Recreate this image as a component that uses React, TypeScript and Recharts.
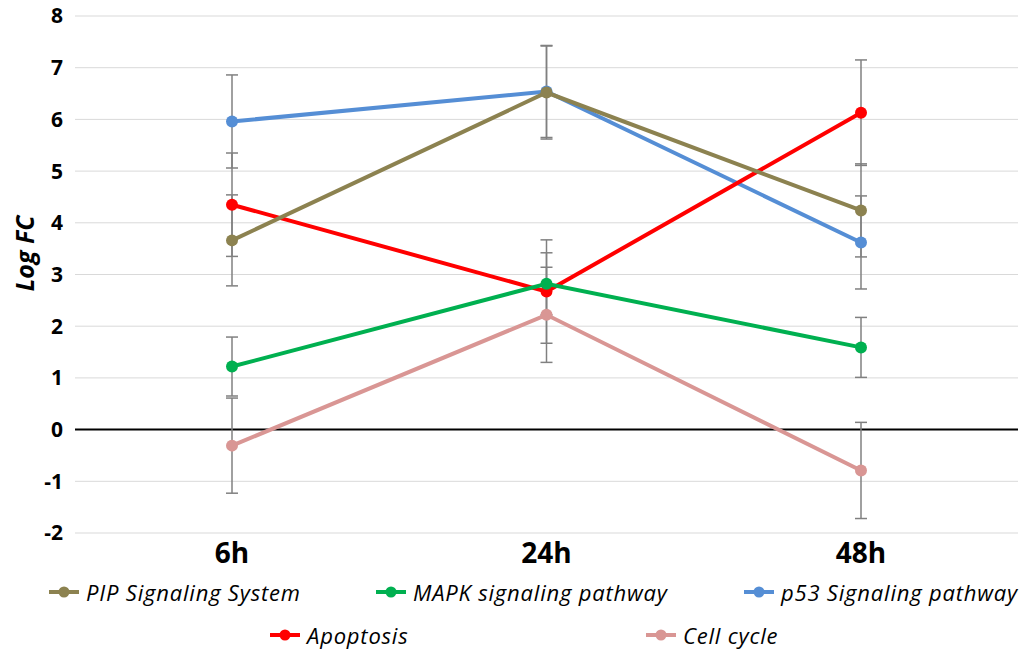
import React from "react";
import {
  LineChart,
  Line,
  XAxis,
  YAxis,
  CartesianGrid,
  ReferenceLine,
  ErrorBar,
  Legend,
} from "recharts";

const times = ["6h", "24h", "48h"];
const pipValues = [3.66, 6.52, 4.24];
const pipErrors = [0.88, 0.9, 0.9];
const mapkValues = [1.22, 2.82, 1.59];
const mapkErrors = [0.57, 0.6, 0.58];
const p53Values = [5.96, 6.54, 3.62];
const p53Errors = [0.9, 0.89, 0.9];
const apoptosisValues = [4.35, 2.67, 6.13];
const apoptosisErrors = [1.0, 1.0, 1.02];
const cellCycleValues = [-0.31, 2.22, -0.79];
const cellCycleErrors = [0.92, 0.92, 0.93];
const yTicks = [-2, -1, 0, 1, 2, 3, 4, 5, 6, 7, 8];

const series = [
  { key: "p53", name: "p53 Signaling pathway", color: "#558ED5" },
  { key: "apoptosis", name: "Apoptosis", color: "#FF0000" },
  { key: "cellCycle", name: "Cell cycle", color: "#D99694" },
  { key: "mapk", name: "MAPK signaling pathway", color: "#00B050" },
  { key: "pip", name: "PIP Signaling System", color: "#8C8250" },
];

const legendItems = [
  { name: "PIP Signaling System", color: "#8C8250", left: 49, top: 0 },
  { name: "MAPK signaling pathway", color: "#00B050", left: 376, top: 0 },
  { name: "p53 Signaling pathway", color: "#558ED5", left: 744, top: 0 },
  { name: "Apoptosis", color: "#FF0000", left: 270, top: 43 },
  { name: "Cell cycle", color: "#D99694", left: 646, top: 43 },
];

const data = times.map((t, i) => ({
  time: t,
  pip: pipValues[i],
  pipErr: pipErrors[i],
  mapk: mapkValues[i],
  mapkErr: mapkErrors[i],
  p53: p53Values[i],
  p53Err: p53Errors[i],
  apoptosis: apoptosisValues[i],
  apoptosisErr: apoptosisErrors[i],
  cellCycle: cellCycleValues[i],
  cellCycleErr: cellCycleErrors[i],
}));

const FONT = "'Open Sans', sans-serif";

const renderLegend = () => (
  <div style={{ position: "relative", width: 1024, height: 72, fontFamily: FONT }}>
    {legendItems.map((it) => (
      <div
        key={it.name}
        style={{
          position: "absolute",
          left: it.left,
          top: it.top,
          height: 28,
          display: "flex",
          alignItems: "center",
          whiteSpace: "nowrap",
        }}
      >
        <svg width={30} height={14} style={{ marginRight: 7 }}>
          <line x1={0} y1={7} x2={30} y2={7} stroke={it.color} strokeWidth={4} />
          <circle cx={15} cy={7} r={5.5} fill={it.color} />
        </svg>
        <span style={{ fontStyle: "italic", fontSize: 22, letterSpacing: 0.8, color: "#000" }}>
          {it.name}
        </span>
      </div>
    ))}
  </div>
);

const YLabel = (props: any) => {
  const vb = props.viewBox || {};
  const cx = 24;
  const cy = (vb.y || 0) + (vb.height || 0) / 2 - 21;
  return (
    <text
      x={cx}
      y={cy}
      transform={`rotate(-90, ${cx}, ${cy})`}
      textAnchor="middle"
      dominantBaseline="central"
      fontFamily={FONT}
      fontSize={25}
      fontWeight={700}
      fontStyle="italic"
      fill="#000"
    >
      Log FC
    </text>
  );
};

export default function App() {
  return (
    <div style={{ position: "absolute", left: 0, top: 0 }}>
      <LineChart
        width={1024}
        height={650}
        data={data}
        margin={{ top: 16, right: 6, left: 8, bottom: 72 }}
      >
        <CartesianGrid vertical={false} stroke="#d9d9d9" strokeWidth={1} />
        <XAxis
          dataKey="time"
          axisLine={false}
          tickLine={false}
          padding={{ left: 157, right: 157 }}
          height={45}
          tickMargin={4}
          tick={{ fontFamily: FONT, fontSize: 28, fontWeight: 700, fill: "#000" }}
        />
        <YAxis
          domain={[-2, 8]}
          ticks={yTicks}
          interval={0}
          width={67}
          axisLine={false}
          tickLine={false}
          tickMargin={6}
          tick={{ fontFamily: FONT, fontSize: 21, fontWeight: 700, fill: "#000" }}
          label={<YLabel />}
        />
        <ReferenceLine y={0} stroke="#000" strokeWidth={2} />
        {series.map((s) => (
          <Line
            key={s.key}
            dataKey={s.key}
            name={s.name}
            stroke={s.color}
            strokeWidth={4}
            dot={{ r: 6, fill: s.color, stroke: s.color, strokeWidth: 0 }}
            activeDot={false}
            isAnimationActive={false}
          >
            <ErrorBar
              dataKey={`${s.key}Err`}
              direction="y"
              width={6}
              stroke="#808080"
              strokeWidth={1.5}
            />
          </Line>
        ))}
        <Legend
          layout="horizontal"
          verticalAlign="middle"
          align="center"
          content={renderLegend}
          wrapperStyle={{ top: 578, left: 0, width: 1024, height: 72 }}
        />
      </LineChart>
    </div>
  );
}
